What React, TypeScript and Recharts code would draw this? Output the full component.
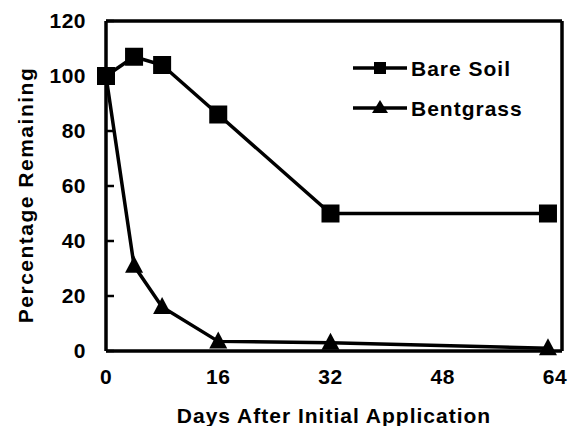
import React from 'react';
import { LineChart, Line, XAxis, YAxis, ReferenceLine, Legend } from 'recharts';

// Days after application and percentage remaining
const bareSoilDays = [0, 4, 8, 16, 32, 63];
const bareSoilPct = [100, 107, 104, 86, 50, 50];
const bentgrassDays = [0, 4, 8, 16, 32, 63];
const bentgrassPct = [100, 31, 16, 3.5, 3, 1];

const xTicks = [0, 16, 32, 48, 64];
const yTicks = [0, 20, 40, 60, 80, 100, 120];

const bareSoil = bareSoilDays.map((d, i) => ({ day: d, value: bareSoilPct[i] }));
const bentgrass = bentgrassDays.map((d, i) => ({ day: d, value: bentgrassPct[i] }));

const FONT = '"Liberation Sans", Arial, sans-serif';
const textProps = { fontFamily: FONT, fontWeight: 'bold', fontSize: 21, fill: '#000' };

const SquareDot = (props: any) => {
  const { cx, cy } = props;
  if (cx == null || cy == null) return null;
  return <rect x={cx - 9} y={cy - 9} width={18} height={18} fill="#000" />;
};

const TriangleDot = (props: any) => {
  const { cx, cy } = props;
  if (cx == null || cy == null) return null;
  return <polygon points={`${cx},${cy - 10} ${cx - 9},${cy + 7} ${cx + 9},${cy + 7}`} fill="#000" />;
};

const XTick = (props: any) => {
  const { x, payload } = props;
  return (
    <text x={x} y={384} textAnchor="middle" letterSpacing={0.5} {...textProps}>
      {payload.value}
    </text>
  );
};

const YTick = (props: any) => {
  const { y, payload } = props;
  return (
    <text x={86} y={y + 7} textAnchor="end" letterSpacing={0.5} {...textProps}>
      {payload.value}
    </text>
  );
};

const YTitle = () => (
  <text
    x={33}
    y={195}
    transform="rotate(-90, 33, 195)"
    textAnchor="middle"
    letterSpacing={1.5}
    {...textProps}
  >
    Percentage Remaining
  </text>
);

const LegendBox = () => (
  <svg width={230} height={80}>
    <g>
      <line x1={2} y1={12} x2={56} y2={12} stroke="#000" strokeWidth={3.5} />
      <rect x={23} y={6} width={12} height={12} fill="#000" />
      <text x={60} y={20} letterSpacing={1} {...textProps}>
        Bare Soil
      </text>
    </g>
    <g>
      <line x1={2} y1={52} x2={56} y2={52} stroke="#000" strokeWidth={3.5} />
      <polygon points="29,44 21,57 37,57" fill="#000" />
      <text x={60} y={60} letterSpacing={1} {...textProps}>
        Bentgrass
      </text>
    </g>
  </svg>
);

export default function App() {
  return (
    <div style={{ position: 'absolute', left: 0, top: 0, background: '#fff' }}>
      <LineChart width={581} height={426} margin={{ top: 21, right: 19, left: 0, bottom: 0 }}>
        <XAxis
          type="number"
          dataKey="day"
          domain={[0, 65]}
          ticks={xTicks}
          allowDuplicatedCategory={false}
          height={75}
          tickLine={false}
          tickSize={0}
          axisLine={{ stroke: '#000', strokeWidth: 3.5 }}
          tick={<XTick />}
          label={{
            value: 'Days After Initial Application',
            position: 'insideBottom',
            offset: 3,
            style: { ...textProps, letterSpacing: 1 },
          }}
        />
        <YAxis
          type="number"
          dataKey="value"
          domain={[0, 120]}
          ticks={yTicks}
          width={106}
          tickSize={-8}
          tickMargin={28}
          tickLine={{ stroke: '#000', strokeWidth: 2.5 }}
          axisLine={{ stroke: '#000', strokeWidth: 3.5 }}
          tick={<YTick />}
          label={<YTitle />}
        />
        <ReferenceLine y={120} stroke="#000" strokeWidth={3.5} />
        <ReferenceLine x={65} stroke="#000" strokeWidth={3.5} />
        <Legend
          layout="horizontal"
          verticalAlign="middle"
          align="center"
          content={<LegendBox />}
          wrapperStyle={{ top: 56, left: 351, width: 230 }}
        />
        <Line
          data={bareSoil}
          dataKey="value"
          name="Bare Soil"
          stroke="#000"
          strokeWidth={3.5}
          dot={<SquareDot />}
          activeDot={false}
          isAnimationActive={false}
        />
        <Line
          data={bentgrass}
          dataKey="value"
          name="Bentgrass"
          stroke="#000"
          strokeWidth={3.5}
          dot={<TriangleDot />}
          activeDot={false}
          isAnimationActive={false}
        />
      </LineChart>
    </div>
  );
}
